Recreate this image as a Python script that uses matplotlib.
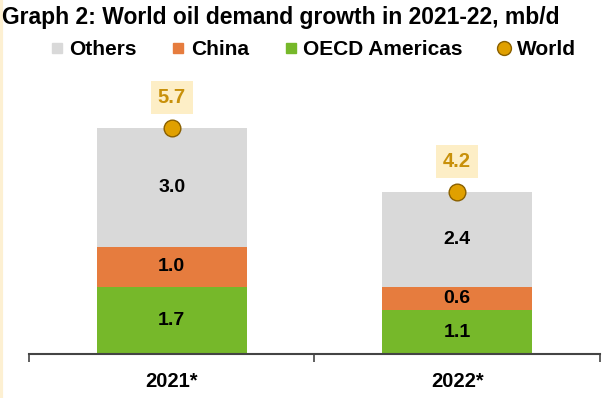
import matplotlib
matplotlib.use("Agg")
import matplotlib.pyplot as plt
from matplotlib.lines import Line2D

plt.rcParams['font.family'] = ['Liberation Sans', 'DejaVu Sans']

years = ["2021*", "2022*"]
oecd_americas = [1.7, 1.1]
china = [1.0, 0.6]
others = [3.0, 2.4]
world = [5.7, 4.2]

c_others = "#d9d9d9"
c_china = "#e67c3e"
c_oecd = "#76b82a"
c_world = "#e0a000"

fig = plt.figure(figsize=(6.14, 3.98), dpi=100)
ax = fig.add_axes([0.047, 0.1106, 0.93, 0.696])

x = list(range(len(years)))
w = 0.525
ax.bar(x, oecd_americas, w, color=c_oecd)
ax.bar(x, china, w, bottom=oecd_americas, color=c_china)
bottom3 = [a + b for a, b in zip(oecd_americas, china)]
ax.bar(x, others, w, bottom=bottom3, color=c_others)

for i in x:
    ax.text(i, oecd_americas[i] / 2, f"{oecd_americas[i]:.1f}", ha="center", va="center",
            fontsize=14, fontweight="bold", color="black")
    ax.text(i, oecd_americas[i] + china[i] / 2, f"{china[i]:.1f}", ha="center", va="center",
            fontsize=14, fontweight="bold", color="black")
    ax.text(i, bottom3[i] + others[i] / 2, f"{others[i]:.1f}", ha="center", va="center",
            fontsize=14, fontweight="bold", color="black")

tops = [a + b for a, b in zip(bottom3, others)]
ax.plot(x, tops, linestyle="none", marker="o", markersize=12,
        markerfacecolor=c_world, markeredgecolor="#8a6000", markeredgewidth=1)
for i in x:
    ax.annotate(f"{world[i]:.1f}", (i, tops[i]), xytext=(0, 22), textcoords="offset points",
                ha="center", va="center", fontsize=14.5, fontweight="bold", color="#c8900a",
                bbox=dict(boxstyle="square,pad=0.35", facecolor="#fdeec6", edgecolor="none"))

ax.set_xlim(-0.5, 1.5)
ax.set_ylim(0, 7.0)
for s in ["top", "left", "right"]:
    ax.spines[s].set_visible(False)
ax.spines["bottom"].set_color("#444444")
ax.spines["bottom"].set_linewidth(1.5)
ax.set_yticks([])
ax.set_xticks(x)
ax.set_xticklabels(years, fontsize=14.5, fontweight="bold")
ax.tick_params(axis="x", which="major", length=0, pad=13)
ax.set_xticks([-0.5, 0.5, 1.5], minor=True)
ax.tick_params(axis="x", which="minor", length=6, width=1.2, color="#444444")

fig.text(0.003, 0.955, "Graph 2: World oil demand growth in 2021-22, mb/d",
         fontsize=16.5, fontweight="bold", ha="left", va="center")

handles = [
    Line2D([], [], linestyle="none", marker="s", markersize=7, color=c_others),
    Line2D([], [], linestyle="none", marker="s", markersize=7, color=c_china),
    Line2D([], [], linestyle="none", marker="s", markersize=7, color=c_oecd),
    Line2D([], [], linestyle="none", marker="o", markersize=10,
           markerfacecolor=c_world, markeredgecolor="#8a6000"),
]
fig.legend(handles, ["Others", "China", "OECD Americas", "World"], ncol=4,
           loc="center", bbox_to_anchor=(0.51, 0.875), frameon=False,
           prop=dict(size=15, weight="bold"), handlelength=0.6, handletextpad=0.3,
           columnspacing=1.7)

fig.add_artist(Line2D([0.002, 0.002], [0, 1], transform=fig.transFigure,
                      color="#fdf0d2", linewidth=3))

fig.savefig("out.png", dpi=100)
